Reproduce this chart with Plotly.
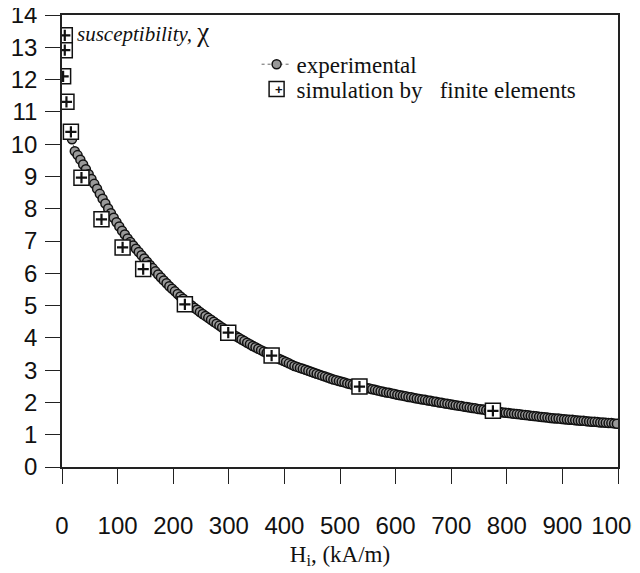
import plotly.graph_objects as go

exp_H = [18, 23, 28, 33, 38, 43, 48, 53, 58, 63, 68, 73, 78, 83, 88, 93, 98,
         103, 108, 113, 118, 123, 128, 133, 138, 143, 148, 153, 158, 163, 168, 173, 178, 183, 188, 193, 198,
         203, 208, 213, 218, 223, 228, 233, 238, 243, 248, 253, 258, 263, 268, 273, 278, 283, 288, 293, 298,
         303, 308, 313, 318, 323, 328, 333, 338, 343, 348, 353, 358, 363, 368, 373, 378, 383, 388, 393, 398,
         403, 408, 413, 418, 423, 428, 433, 438, 443, 448, 453, 458, 463, 468, 473, 478, 483, 488, 493, 498,
         503, 508, 513, 518, 523, 528, 533, 538, 543, 548, 553, 558, 563, 568, 573, 578, 583, 588, 593, 598,
         603, 608, 613, 618, 623, 628, 633, 638, 643, 648, 653, 658, 663, 668, 673, 678, 683, 688, 693, 698,
         703, 708, 713, 718, 723, 728, 733, 738, 743, 748, 753, 758, 763, 768, 773, 778, 783, 788, 793, 798,
         803, 808, 813, 818, 823, 828, 833, 838, 843, 848, 853, 858, 863, 868, 873, 878, 883, 888, 893, 898,
         903, 908, 913, 918, 923, 928, 933, 938, 943, 948, 953, 958, 963, 968, 973, 978, 983, 988, 993, 998]
exp_chi = [10.15, 9.78, 9.66, 9.52, 9.37, 9.22, 9.07, 8.92, 8.77, 8.62, 8.46, 8.31, 8.16, 8.01, 7.86, 7.72, 7.58,
           7.45, 7.32, 7.20, 7.08, 6.97, 6.86, 6.76, 6.66, 6.56, 6.46, 6.36, 6.26, 6.16, 6.06, 5.96, 5.87, 5.78, 5.69, 5.60, 5.52,
           5.44, 5.36, 5.28, 5.21, 5.14, 5.07, 5.00, 4.93, 4.87, 4.80, 4.74, 4.68, 4.62, 4.56, 4.50, 4.44, 4.38, 4.32, 4.26, 4.20,
           4.15, 4.10, 4.05, 4.00, 3.95, 3.90, 3.85, 3.80, 3.75, 3.71, 3.66, 3.62, 3.58, 3.53, 3.49, 3.45, 3.41, 3.37, 3.33, 3.29,
           3.25, 3.21, 3.17, 3.13, 3.10, 3.07, 3.04, 3.01, 2.98, 2.95, 2.92, 2.89, 2.86, 2.83, 2.80, 2.77, 2.74, 2.71, 2.69, 2.66,
           2.64, 2.62, 2.59, 2.57, 2.55, 2.53, 2.51, 2.49, 2.47, 2.45, 2.43, 2.41, 2.39, 2.37, 2.35, 2.33, 2.31, 2.30, 2.28, 2.26,
           2.24, 2.22, 2.21, 2.19, 2.17, 2.16, 2.14, 2.12, 2.11, 2.09, 2.08, 2.06, 2.05, 2.03, 2.02, 2.00, 1.99, 1.97, 1.96, 1.94,
           1.93, 1.91, 1.90, 1.89, 1.87, 1.86, 1.84, 1.83, 1.82, 1.80, 1.79, 1.78, 1.76, 1.75, 1.74, 1.73, 1.71, 1.70, 1.69, 1.68,
           1.67, 1.66, 1.65, 1.64, 1.63, 1.62, 1.61, 1.60, 1.59, 1.58, 1.57, 1.56, 1.55, 1.54, 1.53, 1.52, 1.51, 1.50, 1.50, 1.49,
           1.48, 1.47, 1.46, 1.46, 1.45, 1.44, 1.43, 1.43, 1.42, 1.41, 1.40, 1.40, 1.39, 1.38, 1.38, 1.37, 1.36, 1.36, 1.35, 1.34]

# Finite-element simulation
sim_H = [5, 5, 2, 8, 16, 35, 71, 109, 146, 221, 299, 377, 535, 775]
sim_chi = [13.37, 12.91, 12.10, 11.31, 10.38, 8.96, 7.67, 6.80, 6.13, 5.04, 4.16, 3.45, 2.49, 1.74]

x_ticks = [0, 100, 200, 300, 400, 500, 600, 700, 800, 900, 1000]
y_ticks = list(range(0, 15))

SERIF = "Liberation Serif, Times New Roman, serif"
SANS = "Liberation Sans, Arial, sans-serif"
INK = "#111111"

fig = go.Figure()
fig.add_trace(go.Scatter(
    x=exp_H, y=exp_chi, mode="lines+markers", name="experimental", legend="legend",
    line=dict(color="#666666", width=1, dash="dot"),
    marker=dict(symbol="circle", size=9, color="#999999", line=dict(color="#111111", width=1.5)),
))
fig.add_trace(go.Scatter(
    x=sim_H, y=sim_chi, mode="markers", name="simulation by&nbsp;&nbsp; finite elements", legend="legend2",
    marker=dict(symbol="square", size=15, color="white", line=dict(color=INK, width=1.5)),
))
fig.add_trace(go.Scatter(
    x=sim_H, y=sim_chi, mode="markers", showlegend=False, hoverinfo="skip",
    marker=dict(symbol="cross-thin", size=8, color=INK, line=dict(color=INK, width=2.2)),
))

leg_common = dict(xanchor="left", yanchor="middle", font=dict(family=SERIF, size=23, color=INK),
                  bgcolor="rgba(0,0,0,0)")

axis_common = dict(ticks="outside", ticklen=15, tickwidth=1.3, tickcolor="#222222",
                   showline=True, linecolor="#222222", linewidth=1.5, mirror=True,
                   showgrid=False, zeroline=False, automargin=False, ticklabeloverflow="allow",
                   tickfont=dict(family=SANS, size=24, color=INK))

fig.update_layout(
    width=632, height=565,
    margin=dict(l=54, r=22, t=7, b=106),
    paper_bgcolor="white", plot_bgcolor="white",
    showlegend=True,
    legend=dict(x=0.350, y=0.891, **leg_common),
    legend2=dict(x=0.350, y=0.836, **leg_common),
    xaxis=dict(range=[0, 1000], tickvals=x_ticks, ticklabelstandoff=21,
               title=dict(text="H<sub>i</sub>, (kA/m)", font=dict(family=SERIF, size=23, color=INK),
                          standoff=8),
               **axis_common),
    yaxis=dict(range=[0, 14], tickvals=y_ticks, ticklabelstandoff=3, **axis_common),
    annotations=[
        dict(xref="paper", yref="paper", x=0.024, y=0.962, xanchor="left", yanchor="middle",
             showarrow=False,
             text="<i>susceptibility,</i> <span style='font-size:27px'>χ</span>",
             font=dict(family=SERIF, size=21, color=INK)),
        dict(xref="paper", yref="paper", x=0.3899, y=0.836, xanchor="center", yanchor="middle",
             showarrow=False, text="<b>+</b>", font=dict(family=SANS, size=13, color=INK)),
    ],
)

fig.write_html("out.html")
